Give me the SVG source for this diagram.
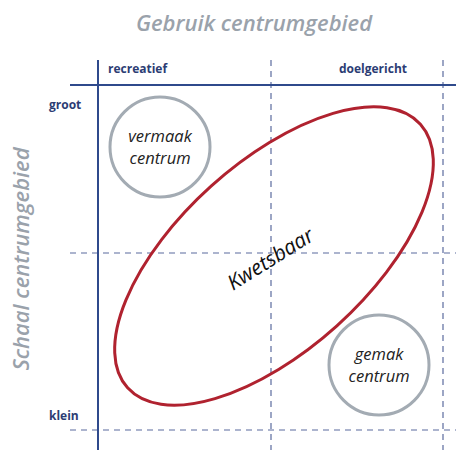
<svg xmlns="http://www.w3.org/2000/svg" width="456" height="450" viewBox="0 0 456 450">
<style>
.axis{stroke:#2f4a8c;stroke-width:2;fill:none}
.dash{stroke:#5b6b9e;stroke-width:1.2;stroke-dasharray:6 5;fill:none}
.lbl{font-family:"Open Sans",sans-serif;font-weight:bold;font-size:12px;fill:#2c3d74}
.ttl{font-family:"Open Sans",sans-serif;font-style:italic;font-weight:600;font-size:22px;fill:#9aa2ab}
.circ{stroke:#a3abb3;stroke-width:3;fill:none}
.ctxt{font-family:"Open Sans",sans-serif;font-style:italic;font-size:16.5px;fill:#222;text-anchor:middle}
</style>
<rect width="456" height="450" fill="#fff"/>
<text class="ttl" x="254" y="31" text-anchor="middle">Gebruik centrumgebied</text>
<text class="ttl" transform="translate(29 259) rotate(-90)" text-anchor="middle">Schaal centrumgebied</text>
<g id="grid">
<line class="dash" x1="271" y1="60" x2="271" y2="450"/>
<line class="dash" x1="443" y1="60" x2="443" y2="450"/>
<line class="dash" x1="70" y1="253" x2="456" y2="253"/>
<line class="dash" x1="70" y1="430" x2="456" y2="430"/>
<line class="axis" x1="70" y1="85" x2="456" y2="85"/>
<line class="axis" x1="98" y1="60" x2="98" y2="450"/>
</g>
<text class="lbl" x="108" y="73">recreatief</text>
<text class="lbl" x="407" y="73" text-anchor="end">doelgericht</text>
<text class="lbl" x="49" y="109">groot</text>
<text class="lbl" x="49" y="420">klein</text>
<g id="vermaak">
<circle class="circ" cx="160" cy="147" r="50"/>
<text class="ctxt" x="160" y="142">vermaak</text>
<text class="ctxt" x="160" y="164">centrum</text>
</g>
<g id="gemak">
<circle class="circ" cx="379" cy="365" r="50"/>
<text class="ctxt" x="379" y="360">gemak</text>
<text class="ctxt" x="379" y="382">centrum</text>
</g>
<g id="kwetsbaar">
<ellipse cx="274" cy="256" rx="197" ry="94" transform="rotate(-42 274 256)" fill="none" stroke="#b0222f" stroke-width="3"/>
<text x="271" y="266" transform="rotate(-32 271 260)" text-anchor="middle" font-family="'Open Sans',sans-serif" font-style="italic" font-size="21" fill="#111">Kwetsbaar</text>
</g>
</svg>
